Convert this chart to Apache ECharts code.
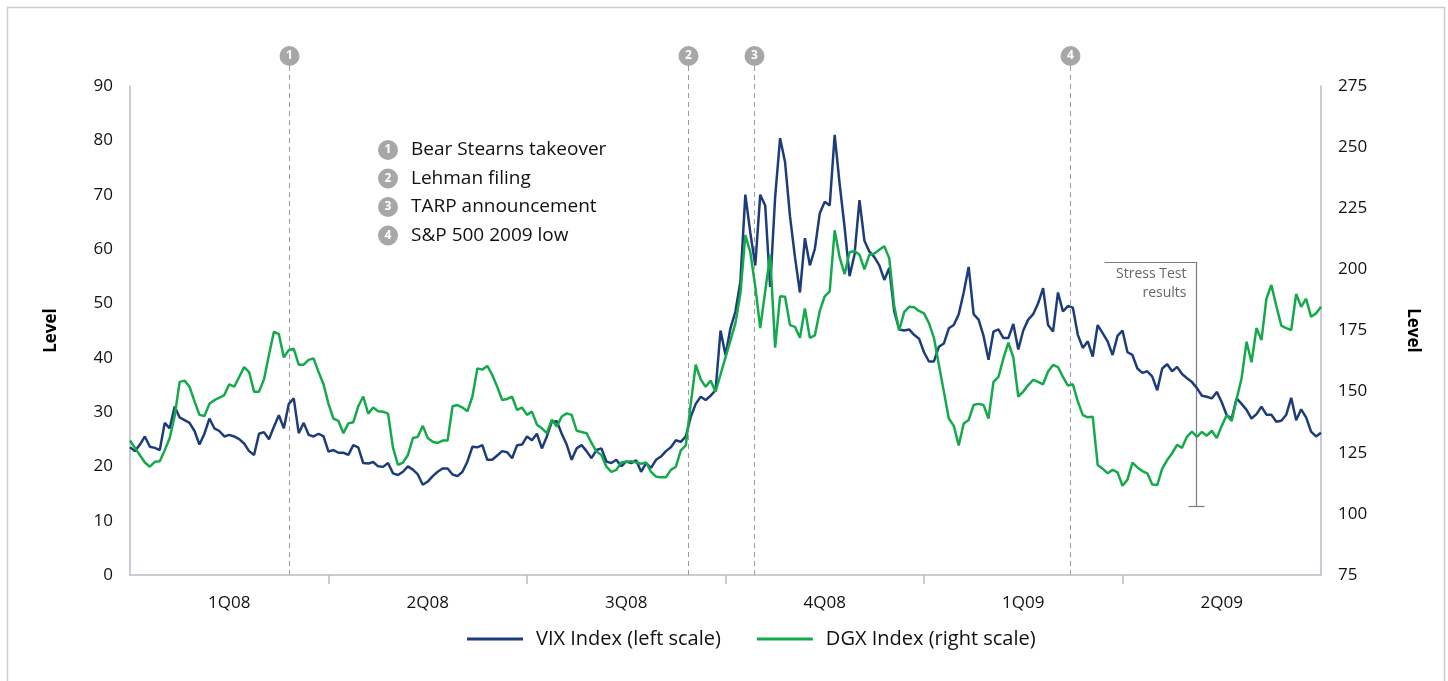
<!DOCTYPE html>
<html>
<head>
<meta charset="utf-8">
<script src="https://cdn.jsdelivr.net/npm/echarts@6/dist/echarts.min.js"></script>
<style>
  html, body { margin: 0; padding: 0; background: #fff; }
  #chart { width: 1448px; height: 681px; }
</style>
</head>
<body>
<div id="chart"></div>
<script>
// quarter labels, 40 samples per quarter
const quarters = ['1Q08', '2Q08', '3Q08', '4Q08', '1Q09', '2Q09']
const STEPS_PER_Q = 40

// VIX Index (left scale)
const vix = [
  23.5, 22.8, 24, 25.5, 23.6, 23.4, 23, 28, 27, 31,
  29, 28.5, 28, 26.5, 24, 26, 28.8, 27, 26.5, 25.5,
  25.8, 25.5, 25, 24.2, 22.8, 22.1, 26, 26.3, 25, 27.3,
  29.4, 27, 31.5, 32.5, 26.1, 28, 25.8, 25.5, 26, 25.5,
  22.7, 23, 22.5, 22.5, 22.1, 23.9, 23.5, 20.6, 20.5, 20.8,
  20, 19.9, 20.6, 18.7, 18.4, 19, 20, 19.4, 18.5, 16.6,
  17.2, 18.2, 19,
  19.6, 19.6, 18.5, 18.2, 19, 20.9, 23.6, 23.5, 23.9, 21.2,
  21.2, 22, 22.8, 22.6, 21.5, 23.9, 24, 25.5, 24.8, 26,
  23.3, 25.5, 28.2, 28.3, 26, 24, 21.2, 23.3, 23.9, 22.8,
  21.5, 23, 23.3, 20.9, 20.6, 21.2, 20, 20.9, 20.6, 21.1,
  19, 20.6, 19.7, 21.2, 21.8, 22.8, 23.5, 24.8, 24.5, 25.5,
  29.1, 31.5, 32.8, 32.2, 33, 34, 45, 40.5, 45.4, 48.5,
  54, 70, 63, 57, 70, 68, 53, 69.5, 80.4, 76,
  66, 58.5, 52, 62, 57, 60, 66.6, 68.7, 68, 81,
  72, 64, 55, 59, 69, 61.5, 59.5, 58.5, 57, 54.3,
  56.5, 48.5, 45.2, 45, 45.2, 44.2, 43.5, 41, 39.3, 39.3,
  42, 42.6, 45.4, 46, 48, 52, 56.7, 48, 47, 44,
  39.6, 44.8, 45.2, 43.6, 43.6, 46.2, 41.5, 45, 47,
  48, 50, 52.8, 46, 44.8, 52, 48.5, 49.5, 49.2, 44.2,
  41.8, 43, 40.2, 46, 44.5, 43, 40.5, 44, 45, 41,
  40.5, 38, 37.2, 37.5, 36.5, 34, 38, 38.8, 37.5, 38.3,
  37, 36.2, 35.5, 34.4, 33, 32.8, 32.5, 33.7, 31.8, 29.4,
  28.8, 32.5, 31.5, 30.4, 28.8, 29.6, 31, 29.5, 29.5, 28.2,
  28.4, 29.5, 32.6, 28.5, 30.5, 29, 26.4, 25.5, 26.2
]

// DGX Index (right scale)
const dgx = [
  130, 127, 124, 121, 119.3, 121.3, 121.5, 126, 131, 140,
  154, 154.5, 152, 146, 140.5, 140, 145, 146.5, 147.5, 148.6,
  153, 152, 156, 160, 158, 150, 150, 155, 165, 174.5,
  173.5, 164, 167, 167.5, 161, 161, 163, 163.6, 158, 153,
  145, 139, 138, 133, 137, 137.5, 144, 148, 141, 143.5,
  142, 141.8, 141, 127, 120, 121, 124, 131, 131.5, 136,
  131, 129.5, 129,
  130, 130, 144, 144.5, 143.5, 142, 148, 159.5, 159, 160.5,
  156.8, 152, 146.6, 147, 147.9, 142.5, 143.5, 140.5, 141.8, 136.5,
  135, 133, 138.5, 135.7, 139.8, 141.1, 140.5, 134, 133.5, 133,
  129, 125.5, 124.1, 119.3, 117.2, 118, 121, 121.3, 121.5, 121,
  120.5, 121, 117.2, 115.2, 115, 115, 118, 119.3, 126, 128,
  145, 161, 155, 152, 154.5, 150, 157, 164, 171, 178,
  190, 214, 207, 193, 176, 191, 206, 168, 189, 188.8,
  177.2, 176.5, 172, 184, 172, 173, 183, 189, 191, 216,
  205, 198, 207, 207.5, 206, 200, 206, 206.5, 208, 209.5,
  204.5, 185, 175, 182.5, 184.7, 184.5, 183, 182, 178, 172,
  161, 150, 139, 136, 128, 137, 138.4, 144.5, 145, 144.5,
  139, 154, 156, 163.6, 170, 164, 148, 150, 152.7,
  154.8, 154, 153, 158.2, 160.9, 160, 156, 152.5, 153, 146,
  140.4, 139.5, 139.7, 120, 118.5, 116.6, 118, 117, 111.5, 114,
  121, 119, 117.5, 116.6, 112, 111.8, 118.5, 122, 124.8, 128.2,
  127, 131.6, 133.6, 131.5, 133.5, 132, 134, 131, 136, 140.4,
  138, 147, 155.5, 170.4, 162, 176, 171.1, 188, 193.6, 185,
  177, 176, 175.2, 190, 184.7, 188, 180.6, 182, 184.7
]

const samples = vix.map((_, i) => i)

// events (position in samples)
const events = [
  { no: '1', label: 'Bear Stearns takeover', pos: 32 },
  { no: '2', label: 'Lehman filing', pos: 112.4 },
  { no: '3', label: 'TARP announcement', pos: 125.7 },
  { no: '4', label: 'S&P 500 2009 low', pos: 189.4 }
]
const stressTest = { pos: 214.8, top: 57.6, bottom: 12.7 }

const FONT = '"Open Sans", "Noto Sans", sans-serif'
const AXIS_COLOR = '#b7bdc5'
const TEXT_COLOR = '#111'

const chart = echarts.init(document.getElementById('chart'))

const option = {
  backgroundColor: '#fff',
  textStyle: { fontFamily: FONT },
  animation: false,
  grid: { left: 130, right: 127, top: 86, bottom: 106 },
  legend: {
    left: 467,
    top: 629,
    padding: 0,
    icon: 'rect',
    itemWidth: 56,
    itemHeight: 3,
    itemGap: 36,
    textStyle: { fontSize: 20, color: TEXT_COLOR, fontFamily: FONT, padding: [0, 0, 0, 8] },
    data: ['VIX Index (left scale)', 'DGX Index (right scale)']
  },
  xAxis: [
    {
      type: 'category',
      data: samples,
      boundaryGap: false,
      axisLine: { lineStyle: { color: AXIS_COLOR, width: 1.5 } },
      axisTick: {
        show: true,
        length: 9,
        lineStyle: { color: AXIS_COLOR, width: 1.5 },
        interval: (i) => i > 0 && i < samples.length - 1 && i % STEPS_PER_Q === 0
      },
      axisLabel: {
        interval: (i) => i % STEPS_PER_Q === STEPS_PER_Q / 2,
        formatter: (v, i) => quarters[Math.floor(i / STEPS_PER_Q)],
        fontSize: 17,
        color: TEXT_COLOR,
        margin: 20
      },
      splitLine: { show: false }
    },
    {
      type: 'value',
      min: 0,
      max: samples.length - 1,
      show: false
    }
  ],
  yAxis: [
    {
      type: 'value',
      min: 0,
      max: 90,
      interval: 10,
      name: 'Level',
      nameLocation: 'middle',
      nameGap: 70,
      nameRotate: 90,
      nameTextStyle: { fontSize: 17, fontWeight: 'bold', color: '#000' },
      axisLine: { show: true, lineStyle: { color: AXIS_COLOR, width: 1.5 } },
      axisTick: { show: false },
      axisLabel: { fontSize: 17, color: TEXT_COLOR, margin: 17 },
      splitLine: { show: false }
    },
    {
      type: 'value',
      min: 75,
      max: 275,
      interval: 25,
      position: 'right',
      name: 'Level',
      nameLocation: 'middle',
      nameGap: 83,
      nameRotate: -90,
      nameTextStyle: { fontSize: 17, fontWeight: 'bold', color: '#000' },
      axisLine: { show: true, lineStyle: { color: AXIS_COLOR, width: 1.5 } },
      axisTick: { show: false },
      axisLabel: { fontSize: 17, color: TEXT_COLOR, margin: 17 },
      splitLine: { show: false }
    }
  ],
  series: [
    {
      name: 'VIX Index (left scale)',
      type: 'line',
      xAxisIndex: 0,
      yAxisIndex: 0,
      data: vix,
      showSymbol: false,
      color: '#1d3d7a',
      lineStyle: { width: 2.5, color: '#1d3d7a' }
    },
    {
      name: 'DGX Index (right scale)',
      type: 'line',
      xAxisIndex: 0,
      yAxisIndex: 1,
      data: dgx,
      showSymbol: false,
      color: '#14aa4c',
      lineStyle: { width: 2.5, color: '#14aa4c' }
    }
  ]
}

chart.setOption(option)

// annotations placed through the chart's own scales
const buildGraphics = () => {
  const items = []
  const baseY = chart.convertToPixel({ yAxisIndex: 0 }, 0)

  items.push({
    type: 'rect',
    shape: { x: 7.5, y: 7.5, width: 1437, height: 720 },
    style: { fill: 'none', stroke: '#c9ced4', lineWidth: 1.5 },
    silent: true
  })

  events.forEach(e => {
    const x = Math.round(chart.convertToPixel({ xAxisIndex: 1 }, e.pos)) + 0.5
    items.push({
      type: 'line',
      shape: { x1: x, y1: 66, x2: x, y2: baseY },
      style: { stroke: '#9c9c9c', lineWidth: 1, lineDash: [5, 4] },
      z: 1
    })
    items.push({ type: 'circle', shape: { cx: x, cy: 56, r: 10 }, style: { fill: '#a7a7a9' } })
    items.push({
      type: 'text', x: x, y: 56,
      style: { text: e.no, fill: '#fff', font: 'bold 12px ' + FONT, align: 'center', verticalAlign: 'middle' }
    })
  })

  // event key
  events.forEach((e, k) => {
    const y = 150 + k * 28.5
    items.push({ type: 'circle', shape: { cx: 388, cy: y, r: 10 }, style: { fill: '#a7a7a9' } })
    items.push({
      type: 'text', x: 388, y: y,
      style: { text: e.no, fill: '#fff', font: 'bold 12px ' + FONT, align: 'center', verticalAlign: 'middle' }
    })
    items.push({
      type: 'text', x: 411, y: y,
      style: { text: e.label, fill: TEXT_COLOR, font: '19px ' + FONT, align: 'left', verticalAlign: 'middle' }
    })
  })

  // stress test bracket
  const sx = Math.round(chart.convertToPixel({ xAxisIndex: 1 }, stressTest.pos)) + 0.5
  const sTop = Math.round(chart.convertToPixel({ yAxisIndex: 0 }, stressTest.top)) + 0.5
  const sBot = Math.round(chart.convertToPixel({ yAxisIndex: 0 }, stressTest.bottom)) + 0.5
  items.push({
    type: 'polyline',
    shape: { points: [[sx - 92, sTop], [sx, sTop], [sx, sBot]] },
    style: { stroke: '#7d7d7d', lineWidth: 1.2, fill: 'none' }
  })
  items.push({
    type: 'line',
    shape: { x1: sx - 8, y1: sBot, x2: sx + 8, y2: sBot },
    style: { stroke: '#7d7d7d', lineWidth: 1.2 }
  })
  items.push({
    type: 'text', x: sx - 10, y: sTop + 12,
    style: { text: 'Stress Test', fill: '#666', font: '14px ' + FONT, align: 'right', verticalAlign: 'middle' }
  })
  items.push({
    type: 'text', x: sx - 10, y: sTop + 31,
    style: { text: 'results', fill: '#666', font: '14px ' + FONT, align: 'right', verticalAlign: 'middle' }
  })
  return items
}

chart.setOption({ graphic: buildGraphics() })
</script>
</body>
</html>
